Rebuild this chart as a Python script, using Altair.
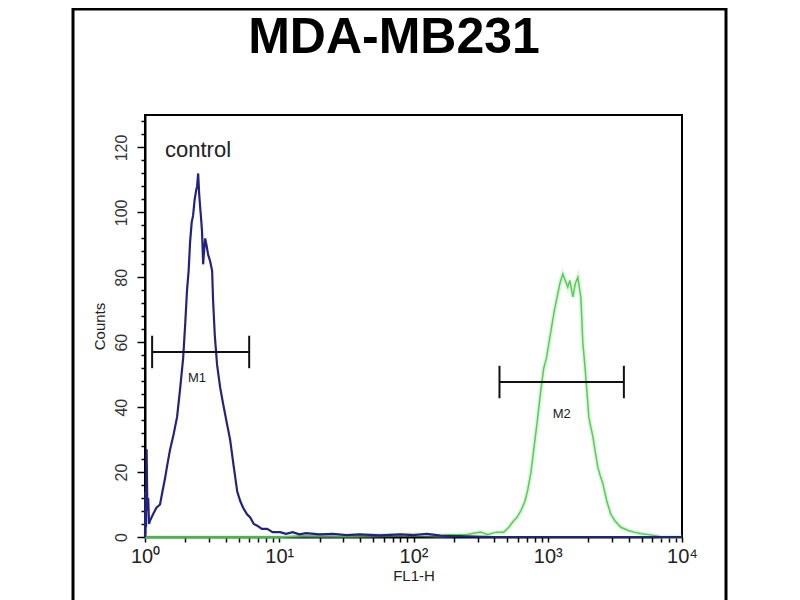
import altair as alt
import pandas as pd

# ---------------- data ----------------
title_text = ["MDA-MB231"]
legend_text = ["control"]
legend_x = [1.41]
legend_y = [117]

# control histogram (blue): position in decades (log10 FL1-H) and counts
control_log = [0.0, 0.003, 0.008, 0.012, 0.018, 0.024, 0.03, 0.037, 0.06, 0.085, 0.112, 0.13,
               0.149, 0.165, 0.187, 0.21, 0.239, 0.26, 0.284, 0.30, 0.313, 0.325, 0.336, 0.348,
               0.358, 0.37, 0.382, 0.388, 0.396, 0.403, 0.41, 0.418, 0.425, 0.433, 0.44, 0.448,
               0.458, 0.47, 0.485, 0.5, 0.507, 0.52, 0.537, 0.56, 0.582, 0.61, 0.634, 0.66,
               0.687, 0.71, 0.731, 0.76, 0.784, 0.81, 0.836, 0.87, 0.91, 0.95, 1.007, 1.05,
               1.1, 1.15, 1.2, 1.3, 1.4, 1.5, 1.6, 1.75, 1.9, 2.0, 2.1, 2.2, 2.4, 2.6, 4.0]
control_counts = [0, 14, 3, 27, 8, 12, 4, 5, 7, 9, 10, 14,
                  18, 22, 27, 31, 37, 45, 55, 66, 76, 82, 91, 97,
                  99, 104, 107, 108, 112, 106, 102, 98, 94, 84, 88, 92,
                  90, 87, 85, 82, 73, 62, 53, 46, 41, 35, 30, 22,
                  14, 11, 9, 7, 6, 4, 3.5, 2.5, 2.5, 1.5, 1.5, 1,
                  1.5, 0.8, 1.2, 0.8, 1, 0.6, 0.8, 0.5, 0.8, 0.6, 1, 0.4, 0.2, 0, 0]

# stained sample histogram (green)
sample_log = [0.0, 1.0, 1.2, 1.5, 1.8, 2.0, 2.2, 2.4, 2.5, 2.55, 2.62, 2.672, 2.71, 2.746,
              2.77, 2.799, 2.83, 2.851, 2.875, 2.896, 2.92, 2.948, 2.97, 2.99, 3.022, 3.05,
              3.075, 3.09, 3.112, 3.13, 3.149, 3.165, 3.187, 3.205, 3.224, 3.235, 3.246,
              3.253, 3.261, 3.272, 3.284, 3.306, 3.32, 3.336, 3.355, 3.373, 3.39, 3.41,
              3.44, 3.47, 3.5, 3.545, 3.6, 3.642, 3.7, 3.791, 3.85, 4.0]
sample_counts = [0, 0, 0.5, 0.3, 0.6, 0.8, 0.5, 0.8, 1.5, 0.8, 1.5, 1.5, 3, 5,
                 6, 8, 11, 14.5, 20, 27, 35, 45, 52, 55, 63, 70,
                 75, 78, 81, 79, 77, 79, 74, 78, 80, 77, 74,
                 68, 60, 55, 49, 37, 34, 31, 26, 21.5, 19, 16.5,
                 11, 7, 5, 3, 2, 1.5, 1, 0.5, 0, 0]

# marker gates
gate_names = ["M1", "M2"]
gate_start = [1.13, 437]
gate_end = [5.97, 3690]
gate_level = [57, 47.75]
gate_label_x = [2.44, 1270]
gate_label_y = [49, 38]

x_tick_values = [1, 2, 3, 4, 5, 6, 7, 8, 9, 10, 20, 30, 40, 50, 60, 70, 80, 90,
                 100, 200, 300, 400, 500, 600, 700, 800, 900,
                 1000, 2000, 3000, 4000, 5000, 6000, 7000, 8000, 9000, 10000]
x_decades = [1, 10, 100, 1000, 10000]
x_decade_labels = ["10\u2070", "10\u00b9", "10\u00b2", "10\u00b3", "10\u2074"]
y_tick_values = [0, 4, 8, 12, 16, 20, 24, 28, 32, 36, 40, 44, 48, 52, 56, 60, 64, 68,
                 72, 76, 80, 84, 88, 92, 96, 100, 104, 108, 112, 116, 120, 124, 128]
y_major = [0, 20, 40, 60, 80, 100, 120]

# ---------------- tables ----------------
control_df = pd.DataFrame({"fl1h": [10 ** v for v in control_log], "count": control_counts,
                           "idx": list(range(len(control_log)))})
sample_df = pd.DataFrame({"fl1h": [10 ** v for v in sample_log], "count": sample_counts,
                          "idx": list(range(len(sample_log)))})
gates_df = pd.DataFrame({"name": gate_names, "start": gate_start, "end": gate_end,
                         "level": gate_level, "lx": gate_label_x, "ly": gate_label_y})
gates_df["lo"] = gates_df["level"] - 5
gates_df["hi"] = gates_df["level"] + 5

NARROW = "Liberation Sans Narrow, Arial Narrow, Liberation Sans, sans-serif"
SANS = "Liberation Sans, Arial, Helvetica, sans-serif"

label_expr = " : ".join(
    f"datum.value == {d} ? '{l}'" for d, l in zip(x_decades, x_decade_labels)
) + " : ''"

xscale = alt.Scale(type="log", domain=[1, 10000], nice=False)
yscale = alt.Scale(domain=[0, 130], nice=False, zero=True)

xaxis = alt.Axis(values=x_tick_values, labelExpr=label_expr, tickSize=5, labelPadding=4,
                 labelFontSize=20, labelFont=NARROW, labelColor="#222", labelOverlap=False,
                 labelFlush=False, grid=False, title="FL1-H", titleFont=NARROW,
                 titleFontSize=15, titleFontWeight="normal", titlePadding=2, titleColor="#222")

major_test = " || ".join(f"datum.value == {v}" for v in y_major)
yaxis = alt.Axis(values=y_tick_values,
                 labelExpr=f"({major_test}) ? datum.label : ''",
                 tickSize={"condition": {"test": major_test, "value": 8}, "value": 4},
                 labelAngle=270, labelAlign="center", labelBaseline="bottom",
                 labelPadding=8, labelFontSize=16, labelFont=NARROW, labelColor="#333",
                 labelOverlap=False, labelFlush=False, grid=False, title="Counts",
                 titleFont=NARROW, titleFontSize=15, titleFontWeight="normal",
                 titlePadding=6, titleColor="#222")


def X(field):
    return alt.X(field, scale=xscale, axis=xaxis, title="FL1-H")


def Y(field):
    return alt.Y(field, scale=yscale, axis=yaxis, title="Counts")


sample_glow = alt.Chart(sample_df).mark_line(color="#a6eea6", strokeWidth=4.5, opacity=0.4).encode(
    x=X("fl1h:Q"), y=Y("count:Q"), order="idx:Q")
sample_line = alt.Chart(sample_df).mark_line(color="#5cc95c", strokeWidth=1.5).encode(
    x=X("fl1h:Q"), y=Y("count:Q"), order="idx:Q")
control_line = alt.Chart(control_df).mark_line(color="#23237e", strokeWidth=2.2).encode(
    x=X("fl1h:Q"), y=Y("count:Q"), order="idx:Q")

gate_bar = alt.Chart(gates_df).mark_rule(color="#111", strokeWidth=2).encode(
    x=X("start:Q"), x2="end:Q", y=Y("level:Q"))
gate_cap_l = alt.Chart(gates_df).mark_rule(color="#111", strokeWidth=2).encode(
    x=X("start:Q"), y=Y("lo:Q"), y2="hi:Q")
gate_cap_r = alt.Chart(gates_df).mark_rule(color="#111", strokeWidth=2).encode(
    x=X("end:Q"), y=Y("lo:Q"), y2="hi:Q")
gate_text = alt.Chart(gates_df).mark_text(font=NARROW, fontSize=13, color="#222",
                                          align="center", baseline="middle").encode(
    x=X("lx:Q"), y=Y("ly:Q"), text="name:N")

legend_df = pd.DataFrame({"t": legend_text, "x": legend_x, "y": legend_y})
control_label = alt.Chart(legend_df).mark_text(font=SANS, fontSize=22, color="#222",
                                               align="left", baseline="alphabetic").encode(
    x=X("x:Q"), y=Y("y:Q"), text="t:N")

title_mark = alt.Chart(pd.DataFrame({"t": title_text})).mark_text(
    font=SANS, fontSize=50, fontWeight="bold", color="#000", align="center",
    baseline="alphabetic").encode(x=alt.value(249), y=alt.value(-62), text="t:N")

frame = alt.Chart(pd.DataFrame({"a": [0]})).mark_rect(
    fillOpacity=0, stroke="#000", strokeWidth=3).encode(
    x=alt.value(-72), x2=alt.value(581), y=alt.value(-106), y2=alt.value(530))

chart = alt.layer(
    sample_glow, sample_line, control_line, gate_bar, gate_cap_l, gate_cap_r,
    gate_text, control_label, title_mark, frame
).properties(
    width=537, height=422, autosize="none",
    padding={"left": 137, "top": 107, "right": 60, "bottom": 70}
).configure_view(
    stroke="#000", strokeWidth=2
).configure_axis(
    domainColor="#000", domainWidth=2, tickColor="#000", tickWidth=1.5
)

chart.save("out.html", embed_options={"renderer": "svg", "actions": False})
